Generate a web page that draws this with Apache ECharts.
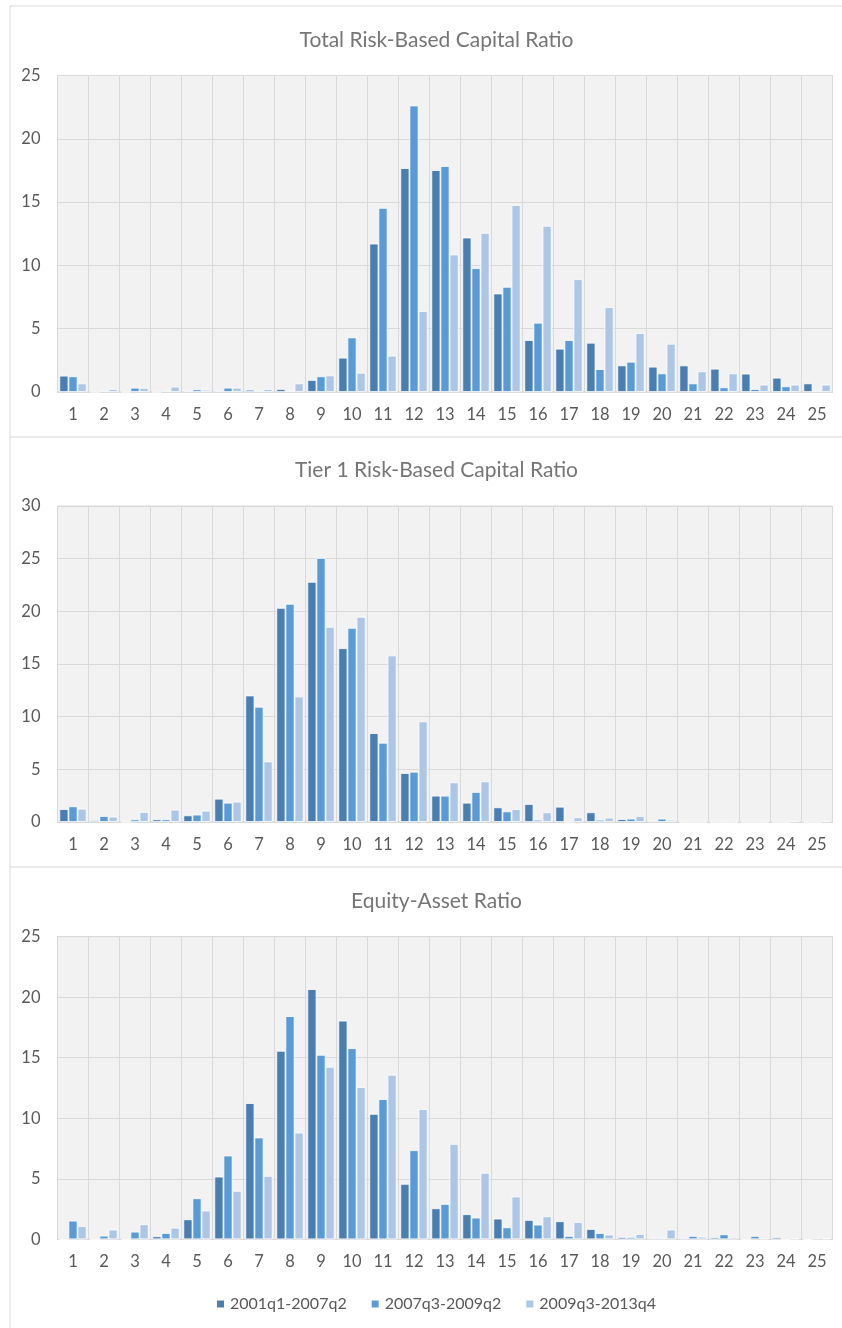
<!DOCTYPE html>
<html>
<head>
<meta charset="utf-8">
<script src="https://cdn.jsdelivr.net/npm/echarts@6/dist/echarts.min.js"></script>
<style>
  html, body { margin: 0; padding: 0; background: #fff; }
  #chart { width: 842px; height: 1328px; }
</style>
</head>
<body>
<div id="chart"></div>
<script>
// categories 1..25
const categories = ["1","2","3","4","5","6","7","8","9","10","11","12","13","14","15","16","17","18","19","20","21","22","23","24","25"];
const seriesNames = ["2001q1-2007q2", "2007q3-2009q2", "2009q3-2013q4"];
const titles = ["Total Risk-Based Capital Ratio", "Tier 1 Risk-Based Capital Ratio", "Equity-Asset Ratio"];
const yMax = [25, 30, 25];

// Total risk-based capital ratio
const totalP1 = [1.29, 0, 0, 0, 0.1, 0.1, 0.18, 0.24, 0.95, 2.71, 11.72, 17.69, 17.53, 12.2, 7.78, 4.1, 3.42, 3.89, 2.1, 2.0, 2.1, 1.84, 1.45, 1.13, 0.68];
const totalP2 = [1.24, 0.1, 0.34, 0.1, 0.21, 0.34, 0.1, 0.1, 1.24, 4.31, 14.54, 22.63, 17.85, 9.78, 8.31, 5.47, 4.1, 1.81, 2.39, 1.47, 0.68, 0.37, 0.24, 0.45, 0.1];
const totalP3 = [0.68, 0.24, 0.32, 0.42, 0.18, 0.34, 0.24, 0.68, 1.31, 1.52, 2.87, 6.39, 10.86, 12.57, 14.77, 13.12, 8.91, 6.7, 4.65, 3.81, 1.63, 1.47, 0.58, 0.58, 0.58];

// Tier 1 risk-based capital ratio
const tier1P1 = [1.23, 0.19, 0, 0.25, 0.63, 2.21, 12.01, 20.33, 22.8, 16.5, 8.44, 4.65, 2.5, 1.83, 1.39, 1.71, 1.45, 0.92, 0.28, 0.13, 0, 0, 0, 0, 0];
const tier1P2 = [1.49, 0.57, 0.25, 0.25, 0.7, 1.83, 10.94, 20.71, 25.07, 18.43, 7.52, 4.77, 2.5, 2.85, 1.01, 0.22, 0, 0.22, 0.32, 0.32, 0, 0, 0, 0, 0];
const tier1P3 = [1.26, 0.51, 0.95, 1.17, 1.07, 1.93, 5.75, 11.92, 18.53, 19.48, 15.81, 9.55, 3.76, 3.86, 1.23, 0.92, 0.44, 0.41, 0.57, 0.22, 0, 0, 0, 0.1, 0.1];

// Equity-asset ratio
const equityP1 = [0, 0, 0, 0.25, 1.65, 5.18, 11.25, 15.57, 20.67, 18.06, 10.36, 4.58, 2.56, 2.07, 1.71, 1.6, 1.49, 0.85, 0.19, 0.11, 0.11, 0.17, 0, 0.17, 0];
const equityP2 = [1.54, 0.3, 0.63, 0.52, 3.39, 6.92, 8.41, 18.44, 15.24, 15.79, 11.58, 7.36, 2.92, 1.79, 0.99, 1.21, 0.28, 0.52, 0.19, 0.11, 0.28, 0.41, 0.28, 0, 0.11];
const equityP3 = [1.1, 0.8, 1.24, 0.96, 2.37, 4.0, 5.24, 8.82, 14.25, 12.57, 13.59, 10.75, 7.88, 5.49, 3.53, 1.9, 1.43, 0.39, 0.44, 0.8, 0.22, 0.17, 0.08, 0.08, 0.08];

const panelData = [
  [totalP1, totalP2, totalP3],
  [tier1P1, tier1P2, tier1P3],
  [equityP1, equityP2, equityP3]
];

const colors = ["#4a7eb0", "#5b9bd5", "#adc6e6"];
const font = "Lato, 'Open Sans', sans-serif";
const textColor = "#595959";

// panel layout: plot area top / height, title y
const panels = [
  { top: 75.5, height: 316.5, titleTop: 25 },
  { top: 506, height: 316, titleTop: 455 },
  { top: 936.7, height: 302.6, titleTop: 886 }
];

const charts = echarts.init(document.getElementById("chart"), null, { renderer: "canvas" });

const grid = panels.map((p) => ({
  left: 57.5,
  right: 9.5,
  top: p.top,
  height: p.height,
  show: true,
  backgroundColor: "#f2f2f2",
  borderColor: "#d9d9d9",
  borderWidth: 1
}));

const title = panels.map((p, i) => ({
  text: titles[i],
  left: 431.5,
  textAlign: "center",
  top: p.titleTop,
  textStyle: { color: "#757575", fontFamily: font, fontSize: 21, fontWeight: "normal" }
}));

const xAxis = panels.map((p, i) => ({
  type: "category",
  gridIndex: i,
  data: categories,
  boundaryGap: true,
  axisLine: { show: true, lineStyle: { color: "#d9d9d9" } },
  axisTick: { show: false },
  axisLabel: { color: textColor, fontFamily: font, fontSize: 16.5, margin: 14, interval: 0 },
  splitLine: { show: true, interval: 0, lineStyle: { color: "#d9d9d9", width: 1 } }
}));

const yAxis = panels.map((p, i) => ({
  type: "value",
  gridIndex: i,
  min: 0,
  max: yMax[i],
  interval: 5,
  axisLine: { show: false },
  axisTick: { show: false },
  axisLabel: { color: textColor, fontFamily: font, fontSize: 16.5, margin: 17 },
  splitLine: { show: true, lineStyle: { color: "#d9d9d9", width: 1 } }
}));

const series = [];
panelData.forEach((group, gi) => {
  group.forEach((vals, si) => {
    series.push({
      name: seriesNames[si],
      type: "bar",
      xAxisIndex: gi,
      yAxisIndex: gi,
      data: vals,
      barGap: "0%",
      barCategoryGap: "12%",
      itemStyle: { color: colors[si], borderColor: "#ffffff", borderWidth: 0.8 },
      animation: false
    });
  });
});

const option = {
  backgroundColor: "#ffffff",
  title: title,
  grid: grid,
  xAxis: xAxis,
  yAxis: yAxis,
  legend: {
    data: seriesNames,
    bottom: 16,
    left: 215,
    padding: 0,
    itemWidth: 9,
    itemHeight: 9,
    itemGap: 23,
    icon: "rect",
    textStyle: { color: textColor, fontFamily: font, fontSize: 16 }
  },
  graphic: [
    { type: "line", shape: { x1: 10, y1: 6, x2: 842, y2: 6 }, style: { stroke: "#d9d9d9", lineWidth: 1 } },
    { type: "line", shape: { x1: 10, y1: 437, x2: 842, y2: 437 }, style: { stroke: "#d9d9d9", lineWidth: 1 } },
    { type: "line", shape: { x1: 10, y1: 867, x2: 842, y2: 867 }, style: { stroke: "#d9d9d9", lineWidth: 1 } },
    { type: "line", shape: { x1: 10, y1: 6, x2: 10, y2: 1328 }, style: { stroke: "#d9d9d9", lineWidth: 1 } }
  ],
  series: series
};

charts.setOption(option);
</script>
</body>
</html>
